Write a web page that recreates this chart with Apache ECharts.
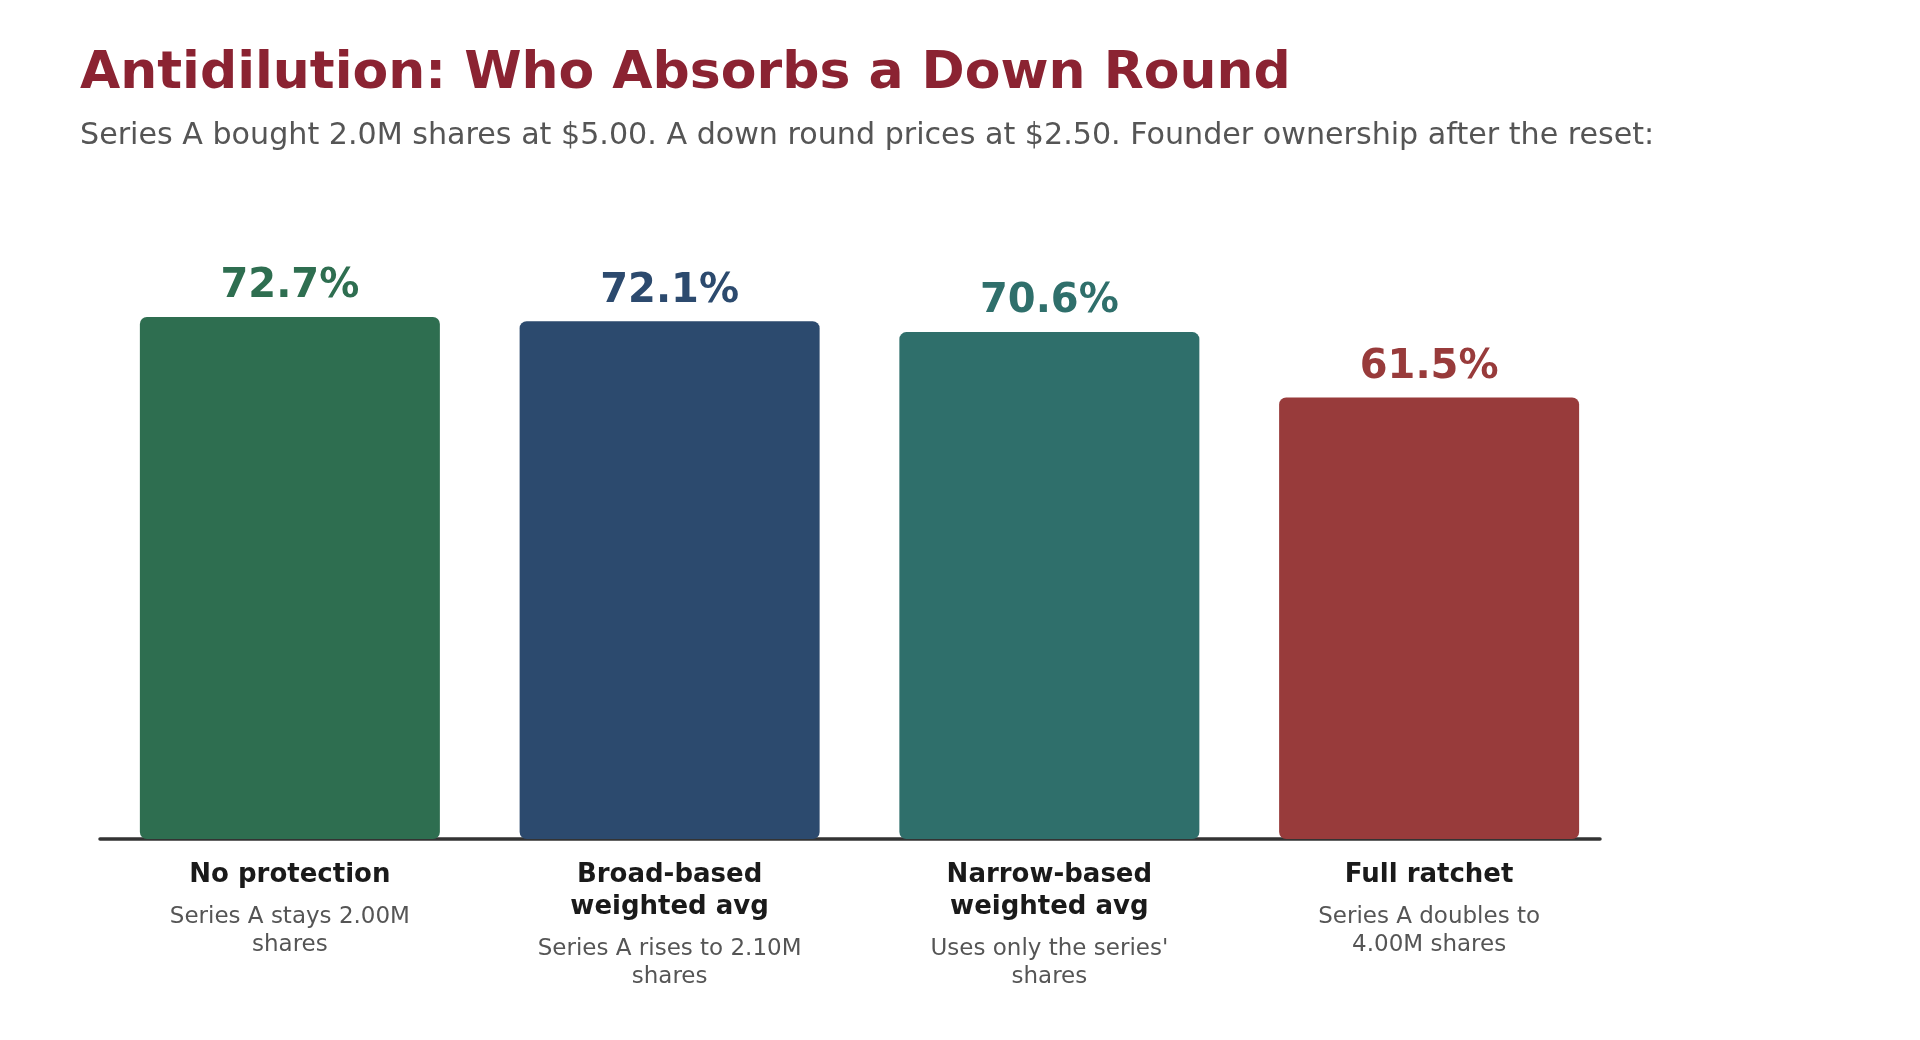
<!DOCTYPE html>
<html>
<head>
<meta charset="utf-8">
<script src="https://cdn.jsdelivr.net/npm/echarts@6/dist/echarts.min.js"></script>
<style>
html,body{margin:0;padding:0;background:#fff;}
#chart{width:1920px;height:1040px;}
</style>
</head>
<body>
<div id="chart"></div>
<script>
const categories = ['No protection', 'Broad-based\nweighted avg', 'Narrow-based\nweighted avg', 'Full ratchet'];
const notes = ['Series A stays 2.00M\nshares', 'Series A rises to 2.10M\nshares', "Uses only the series'\nshares", 'Series A doubles to\n4.00M shares'];
const ownership = [72.7, 72.1, 70.6, 61.5];
const barColors = ['#2E6E50', '#2C4A6E', '#2F6F6B', '#983B3B'];
const positions = [0, 1, 2, 3];

const FONT = "'DejaVu Sans', sans-serif";

const chart = echarts.init(document.getElementById('chart'), null, {renderer: 'canvas'});

function axisText(v) {
  const i = Math.round(v);
  if (i < 0 || i >= categories.length) return '';
  const t = categories[i].split('\n').map(s => '{t|' + s + '}').join('\n');
  const s = notes[i].split('\n').map(s => '{s|' + s + '}').join('\n');
  return t + '\n{g| }\n' + s;
}

chart.setOption({
  backgroundColor: '#ffffff',
  animation: false,
  title: [
    {
      text: 'Antidilution: Who Absorbs a Down Round',
      left: 75, top: 43,
      textStyle: {fontFamily: FONT, fontSize: 52, fontWeight: 'bold', color: '#8B2332', lineHeight: 52}
    },
    {
      text: 'Series A bought 2.0M shares at $5.00. A down round prices at $2.50. Founder ownership after the reset:',
      left: 75, top: 116,
      textStyle: {fontFamily: FONT, fontSize: 30.15, fontWeight: 'normal', color: '#555555', lineHeight: 30}
    }
  ],
  grid: {left: 100, right: 320, top: 121, bottom: 201, containLabel: false},
  xAxis: {
    type: 'value',
    min: -0.5,
    max: 3.45,
    splitLine: {show: false},
    axisTick: {show: false},
    axisLine: {show: true, lineStyle: {color: '#333333', width: 3.5}},
    axisLabel: {
      customValues: positions,
      margin: 20,
      formatter: axisText,
      align: 'center',
      verticalAlign: 'top',
      rich: {
        t: {fontFamily: FONT, fontSize: 26, fontWeight: 'bold', color: '#1a1a1a', lineHeight: 32, align: 'center'},
        g: {fontSize: 1, lineHeight: 12},
        s: {fontFamily: FONT, fontSize: 23, color: '#555555', lineHeight: 28, align: 'center'}
      }
    }
  },
  yAxis: {
    type: 'value', min: 0, max: 100, show: false,
    splitLine: {show: false}
  },
  series: [{
    type: 'bar',
    barWidth: 300,
    data: ownership.map((v, i) => ({
      value: [positions[i], v],
      itemStyle: {color: barColors[i], borderRadius: 7},
      label: {color: barColors[i]}
    })),
    label: {
      show: true,
      position: 'top',
      distance: 10,
      fontFamily: FONT,
      fontSize: 40,
      fontWeight: 'bold',
      lineHeight: 40,
      formatter: p => p.value[1].toFixed(1) + '%'
    },
    z: 2
  }]
});
</script>
</body>
</html>
